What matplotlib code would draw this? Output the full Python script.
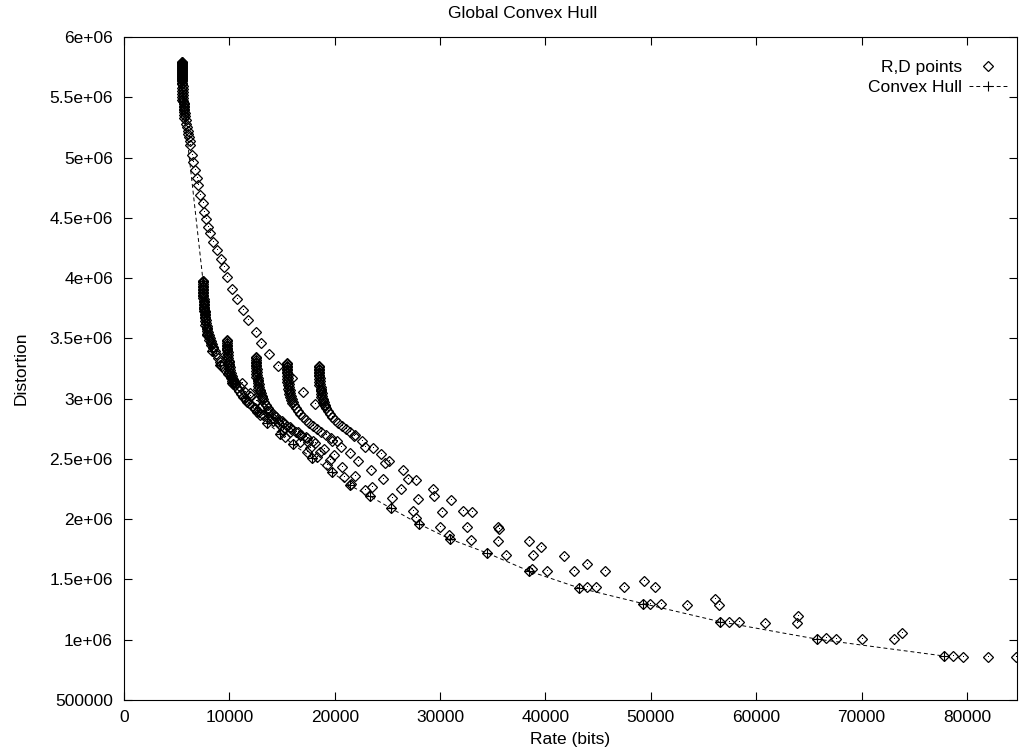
import matplotlib
matplotlib.use('Agg')
import matplotlib.pyplot as plt
import numpy as np

plt.rcParams['font.family'] = ['Liberation Sans', 'DejaVu Sans']

# first quantizer column + its long curve (rate in bits, distortion in 1e6)
col1_rate = [5500, 5500, 5500, 5500, 5500, 5500, 5500, 5500, 5500, 5500, 5500,
             5600, 5600, 5600, 5600, 5600, 5600, 5690, 5690, 5690, 5790, 5790,
             5880, 5880, 5980, 6070, 6070, 6170, 6260, 6260, 6450, 6550, 6740,
             6930, 7020, 7210, 7500, 7590, 7780, 7970, 8160, 8450, 8830, 9210,
             9490, 9780, 10250, 10720, 11290, 11770, 12530, 13000, 13760, 14610,
             15940, 16990, 18130,
             5500, 5500, 5500, 5500, 5500, 5500, 5500, 5500, 5500, 5500,
             5550, 5550, 5550, 5550, 5550, 5550, 5650, 5650, 5650, 5650, 5740, 5740]
col1_dist = [5.793, 5.776, 5.759, 5.743, 5.726, 5.710, 5.693, 5.676, 5.660, 5.643, 5.618,
             5.593, 5.569, 5.544, 5.519, 5.494, 5.469, 5.444, 5.419, 5.394, 5.369, 5.345,
             5.311, 5.278, 5.253, 5.220, 5.195, 5.170, 5.137, 5.104, 5.021, 4.963, 4.897,
             4.830, 4.772, 4.689, 4.623, 4.548, 4.490, 4.424, 4.374, 4.299, 4.233, 4.158,
             4.092, 4.009, 3.909, 3.826, 3.735, 3.652, 3.553, 3.461, 3.370, 3.271,
             3.171, 3.055, 2.955,
             5.785, 5.768, 5.751, 5.735, 5.718, 5.701, 5.685, 5.668, 5.651, 5.631,
             5.606, 5.581, 5.556, 5.531, 5.506, 5.481, 5.456, 5.431, 5.406, 5.381, 5.357, 5.328]

col2_rate = [7500, 7500, 7500, 7500, 7500, 7500, 7590, 7590, 7590, 7590, 7690, 7690,
             7690, 7780, 7780, 7880, 7880, 7970, 8070, 8160, 8260, 8350, 8450, 8640,
             8730, 8920, 9110, 9300, 9590, 9870, 10250, 10630, 11010, 11480, 11960,
             12530, 13100, 13670, 14330, 14990, 15750, 16510, 17270, 18130, 18980, 19930,
             7500, 7500, 7500, 7500, 7500, 7500, 7550, 7550, 7550, 7550, 7640, 7640,
             7730, 7730, 7730, 7830, 7830, 7920, 8020, 8110, 8210, 8300, 8400]
col2_dist = [3.976, 3.951, 3.926, 3.901, 3.876, 3.851, 3.826, 3.802, 3.777, 3.752, 3.727, 3.702,
             3.677, 3.652, 3.627, 3.602, 3.578, 3.553, 3.528, 3.503, 3.478, 3.453, 3.428, 3.395,
             3.370, 3.337, 3.304, 3.271, 3.237, 3.204, 3.171, 3.130, 3.096, 3.055, 3.022,
             2.980, 2.939, 2.897, 2.856, 2.814, 2.765, 2.723, 2.682, 2.632, 2.582, 2.532,
             3.964, 3.938, 3.913, 3.888, 3.863, 3.838, 3.814, 3.789, 3.764, 3.740, 3.715, 3.690,
             3.665, 3.640, 3.615, 3.590, 3.565, 3.540, 3.515, 3.490, 3.465, 3.441, 3.416]

col3_rate = [9780, 9780, 9780, 9780, 9870, 9870, 9870, 9970, 9970, 10060, 10060, 10150,
             10250, 10340, 10440, 10530, 10720, 10910, 11100, 11290, 11580, 11860, 12150,
             12430, 12810, 13190, 13670, 14140, 14710, 15280,
             9780, 9780, 9780, 9780, 9820, 9820, 9820, 9920, 9920, 10010, 10010, 10100,
             10200, 10290, 10390]
col3_dist = [3.486, 3.461, 3.437, 3.412, 3.387, 3.362, 3.337, 3.312, 3.287, 3.262, 3.237, 3.213,
             3.188, 3.163, 3.138, 3.113, 3.088, 3.063, 3.038, 3.013, 2.989, 2.964, 2.939,
             2.914, 2.889, 2.864, 2.839, 2.814, 2.789, 2.756,
             3.474, 3.449, 3.424, 3.400, 3.375, 3.350, 3.325, 3.300, 3.275, 3.250, 3.225, 3.200,
             3.175, 3.150, 3.125]

col4_rate = [12530, 12530, 12530, 12530, 12620, 12620, 12620, 12720, 12720, 12810, 12810,
             12910, 13000, 13100, 13190, 13290, 13480, 13670, 13860, 14140, 14430, 14710,
             15090, 15470, 15850, 16320, 16800, 17370, 17940,
             12530, 12530, 12530, 12530, 12570, 12570, 12570, 12670, 12670, 12760, 12760,
             12860, 12950, 13050, 13140]
col4_dist = [3.345, 3.320, 3.296, 3.271, 3.246, 3.221, 3.196, 3.171, 3.146, 3.121, 3.096,
             3.072, 3.047, 3.022, 2.997, 2.972, 2.947, 2.922, 2.897, 2.872, 2.848, 2.823,
             2.798, 2.773, 2.748, 2.723, 2.698, 2.673, 2.648,
             3.333, 3.308, 3.283, 3.258, 3.233, 3.208, 3.183, 3.158, 3.133, 3.108, 3.084,
             3.060, 3.035, 3.010, 2.985]

col5_rate = [15470, 15470, 15470, 15470, 15560, 15560, 15560, 15660, 15660, 15750, 15750,
             15850, 15940, 16040, 16130, 16320, 16510, 16700, 16990, 17270, 17560, 17940,
             18320, 18700, 19170, 19640, 20210,
             15470, 15470, 15470, 15470, 15510, 15510, 15510, 15610, 15610, 15700, 15700,
             15800, 15890, 15990]
col5_dist = [3.296, 3.271, 3.246, 3.221, 3.196, 3.171, 3.146, 3.121, 3.096, 3.072, 3.047,
             3.022, 2.997, 2.972, 2.947, 2.922, 2.897, 2.872, 2.848, 2.823, 2.798, 2.773,
             2.748, 2.723, 2.698, 2.673, 2.648,
             3.284, 3.259, 3.234, 3.209, 3.184, 3.159, 3.134, 3.109, 3.084, 3.060, 3.035,
             3.010, 2.985, 2.960]

col6_rate = [18510, 18510, 18510, 18510, 18600, 18600, 18600, 18700, 18700, 18790, 18790,
             18890, 18980, 19080, 19170, 19360, 19550, 19740, 20020, 20310, 20690, 21070,
             21450, 21920,
             18510, 18510, 18510, 18510, 18550, 18550, 18550, 18650, 18650, 18740, 18740,
             18840, 18930, 19030]
col6_dist = [3.271, 3.246, 3.221, 3.196, 3.171, 3.146, 3.121, 3.096, 3.072, 3.047, 3.022,
             2.997, 2.972, 2.947, 2.922, 2.897, 2.872, 2.848, 2.823, 2.798, 2.773, 2.748,
             2.723, 2.698,
             3.259, 3.234, 3.209, 3.184, 3.159, 3.134, 3.109, 3.084, 3.060, 3.035, 3.010,
             2.985, 2.960, 2.935]

# sparse points further right
tail_a_rate = [21830, 22590, 22870, 23630, 24390, 24770, 25150, 26480, 26950, 27710, 29320,
               29420, 31030, 32170, 33030, 35490, 35590, 38430, 39570, 41760, 43940, 45650,
               49350, 50390, 53430, 56090, 56470, 63960, 63870, 73070, 73830]
tail_a_dist = [2.690, 2.648, 2.599, 2.590, 2.541, 2.466, 2.482, 2.408, 2.333, 2.325, 2.250,
               2.192, 2.159, 2.068, 2.059, 1.935, 1.918, 1.819, 1.769, 1.694, 1.628, 1.570,
               1.487, 1.437, 1.288, 1.338, 1.288, 1.197, 1.139, 1.006, 1.056]

tail_b_rate = [19740, 20590, 21450, 22210, 23440, 24580, 26290, 27900, 30180, 32550, 35490,
               38810, 42710, 47450, 50960, 58360, 60830, 70040, 82000]
tail_b_dist = [2.648, 2.599, 2.549, 2.482, 2.408, 2.333, 2.250, 2.167, 2.059, 1.935, 1.819,
               1.703, 1.570, 1.437, 1.296, 1.147, 1.139, 1.006, 0.856]

tail_c_rate = [19550, 20690, 20880, 21920, 21540, 22870, 23540, 25430, 27430, 27710, 29990,
               30840, 32930, 36250, 38720, 40140, 43940, 44790, 49920, 57410, 66620, 67570,
               78670, 79620, 84700]
tail_c_dist = [2.491, 2.433, 2.350, 2.358, 2.292, 2.242, 2.267, 2.176, 2.068, 2.010, 1.935,
               1.869, 1.827, 1.703, 1.587, 1.570, 1.437, 1.437, 1.296, 1.147, 1.014, 1.006,
               0.865, 0.856, 0.856]

tail_d_rate = [11200, 11960, 11670, 12430, 12910, 13670, 14140, 14610, 15090, 15750, 15280,
               16700, 16700, 17460, 17650, 17370, 18320, 18600, 19260]
tail_d_dist = [3.130, 3.047, 2.972, 2.922, 2.864, 2.881, 2.839, 2.806, 2.740, 2.723, 2.682,
               2.698, 2.640, 2.640, 2.590, 2.557, 2.516, 2.557, 2.449]

hull_rate = [5500, 5600, 7500, 7590, 7880, 8350, 9110, 10250, 11480, 12620, 13570, 14800,
             16040, 17840, 19740, 21450, 23350, 25340, 28000, 30940, 34450, 38430, 43180,
             49250, 56560, 65770, 77820]
hull_dist = [5.793, 5.469, 3.976, 3.727, 3.528, 3.395, 3.280, 3.130, 3.005, 2.890, 2.800, 2.710,
             2.620, 2.510, 2.390, 2.280, 2.190, 2.090, 1.960, 1.835, 1.720, 1.570, 1.430,
             1.300, 1.150, 1.005, 0.865]

x_ticks = [0, 10000, 20000, 30000, 40000, 50000, 60000, 70000, 80000]
y_ticks = [500000, 1e6, 1.5e6, 2e6, 2.5e6, 3e6, 3.5e6, 4e6, 4.5e6, 5e6, 5.5e6, 6e6]
y_labels = ['500000', '1e+06', '1.5e+06', '2e+06', '2.5e+06', '3e+06', '3.5e+06',
            '4e+06', '4.5e+06', '5e+06', '5.5e+06', '6e+06']

all_rate = np.concatenate([col1_rate, col2_rate, col3_rate, col4_rate, col5_rate, col6_rate,
                           tail_a_rate, tail_b_rate, tail_c_rate, tail_d_rate, hull_rate])
all_dist = np.concatenate([col1_dist, col2_dist, col3_dist, col4_dist, col5_dist, col6_dist,
                           tail_a_dist, tail_b_dist, tail_c_dist, tail_d_dist, hull_dist]) * 1e6

fig = plt.figure(figsize=(10.29, 7.55), dpi=100)
ax = fig.add_axes([124 / 1029, 1 - 700 / 755, (1017 - 124) / 1029, (700 - 37) / 755])

ax.plot(all_rate, all_dist, linestyle='none', marker='D', ms=4.8, mfc='none',
        mec='black', mew=0.9, label='R,D points')
ax.plot(all_rate, all_dist, linestyle='none', marker=',', color='black')
ax.plot(hull_rate, np.array(hull_dist) * 1e6, color='black', lw=0.7, dashes=(4, 3),
        marker='+', ms=7, mew=0.8, label='Convex Hull')

ax.set_xlim(0, 84750)
ax.set_ylim(500000, 6e6)
ax.set_xticks(x_ticks)
ax.set_xticklabels([str(t) for t in x_ticks])
ax.set_yticks(y_ticks)
ax.set_yticklabels(y_labels)
ax.tick_params(direction='in', length=5.5, width=0.8, top=True, right=True,
               labelsize=12.5, pad=7)
ax.tick_params(axis='y', pad=8)
for s in ax.spines.values():
    s.set_linewidth(0.8)

ax.set_xlabel('Rate (bits)', fontsize=12.5, labelpad=5)
ax.set_ylabel('Distortion', fontsize=12.5, labelpad=15)
fig.text(523 / 1029, 1 - 13 / 755, 'Global Convex Hull', fontsize=12.5,
         ha='center', va='center')

leg = ax.legend(loc='upper right', bbox_to_anchor=(0.993, 0.971), frameon=False,
                markerfirst=False, numpoints=1, fontsize=12.5, handlelength=2.2,
                handletextpad=0.4, labelspacing=0.3, borderaxespad=0.2, borderpad=0)

fig.savefig('out.png', dpi=100)
